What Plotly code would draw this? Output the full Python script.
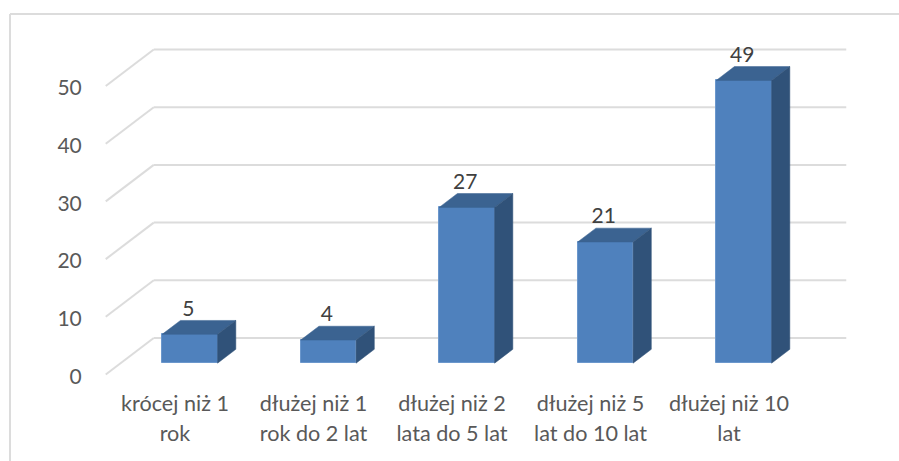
import plotly.graph_objects as go

categories = [["krócej niż 1", "rok"], ["dłużej niż 1", "rok do 2 lat"], ["dłużej niż 2", "lata do 5 lat"],
              ["dłużej niż 5", "lat do 10 lat"], ["dłużej niż 10", "lat"]]
values = [5, 4, 27, 21, 49]
y_ticks = [0, 10, 20, 30, 40, 50]

FONT = "Lato"
FS_CAT = 21.6
FS_NUM = 21
GRID = "#dcdcdc"
FRONT, TOP, SIDE = "#4f81bd", "#3b6391", "#305279"

# oblique projection: full floor depth in axis units
DX, DY = 0.3466, 6.33
BAR_HALF = 0.2
D0, D1 = 0.31, 0.69

W, H = 899, 461
L, R, T, B = 90, 860, 25, 380
xr = [(L - 175) / 138.5, (R - 175) / 138.5]
yr = [(374.5 - B) / 5.77, (374.5 - T) / 5.77]

def proj(x, v, d):
    return x + d * DX, v + d * DY

fig = go.Figure()
xs = list(range(len(values)))

# front faces
fig.add_trace(go.Bar(
    x=[proj(i, 0, D0)[0] for i in xs], y=values, base=D0 * DY, width=2 * BAR_HALF,
    marker=dict(color=FRONT, line=dict(color="#6b97cc", width=1)), hoverinfo="skip", showlegend=False))

# top and side faces
for i, v in zip(xs, values):
    a = proj(i - BAR_HALF, v, D0); b = proj(i + BAR_HALF, v, D0)
    c = proj(i + BAR_HALF, v, D1); d = proj(i - BAR_HALF, v, D1)
    fig.add_trace(go.Scatter(x=[a[0], b[0], c[0], d[0], a[0]], y=[a[1], b[1], c[1], d[1], a[1]],
                             mode="lines", fill="toself", fillcolor=TOP, line=dict(color=TOP, width=0.5),
                             hoverinfo="skip", showlegend=False))
    e = proj(i + BAR_HALF, 0, D0); f = proj(i + BAR_HALF, 0, D1)
    fig.add_trace(go.Scatter(x=[e[0], f[0], c[0], b[0], e[0]], y=[e[1], f[1], c[1], b[1], e[1]],
                             mode="lines", fill="toself", fillcolor=SIDE, line=dict(color=SIDE, width=0.5),
                             hoverinfo="skip", showlegend=False))

# data labels
fig.add_trace(go.Scatter(
    x=[proj(i, 0, D0)[0] - 0.012 for i in xs], y=[v + D1 * DY + 1.75 for v in values],
    mode="text", text=[str(v) for v in values], textposition="middle center",
    textfont=dict(family=FONT, size=FS_NUM, color="#404040"), hoverinfo="skip", showlegend=False))

# gridlines on floor edge and back wall
shapes = []
x_lo, x_hi = -0.5, len(values) - 0.5
for t in y_ticks:
    p0 = proj(x_lo, t, 0); p1 = proj(x_lo, t, 1); p2 = proj(x_hi, t, 1)
    for s, e in ((p0, p1), (p1, p2)):
        shapes.append(dict(type="line", xref="x", yref="y", layer="below",
                           x0=s[0], y0=s[1], x1=e[0], y1=e[1], line=dict(color=GRID, width=2)))

# chart frame, cut off by the page on the right and at the bottom
px = lambda p: (p - L) / (R - L)
py = lambda p: (B - p) / (B - T)
shapes.append(dict(type="line", xref="paper", yref="paper", x0=px(10), x1=px(W + 5), y0=py(14), y1=py(14),
                   line=dict(color=GRID, width=2)))
shapes.append(dict(type="line", xref="paper", yref="paper", x0=px(10), x1=px(10), y0=py(14), y1=py(H + 5),
                   line=dict(color=GRID, width=2)))

ticktext = [f'<span style="font-size:{FS_CAT}px">{a}</span><br><span style="font-size:{FS_CAT}px">{b}</span>'
            for a, b in categories]

fig.update_layout(
    width=W, height=H, autosize=False, paper_bgcolor="white", plot_bgcolor="rgba(0,0,0,0)",
    margin=dict(l=L, r=W - R, t=T, b=H - B, pad=0), shapes=shapes, showlegend=False, bargap=0,
    xaxis=dict(range=xr, tickmode="array", tickvals=xs, ticktext=ticktext, showgrid=False, zeroline=False,
               showline=False, ticks="outside", ticklen=2, tickcolor="rgba(0,0,0,0)",
               tickfont=dict(family=FONT, size=23, color="#595959"), tickangle=0, automargin=False),
    yaxis=dict(range=yr, tickmode="array", tickvals=y_ticks, showgrid=False, zeroline=False, showline=False,
               ticks="outside", ticklen=3, tickcolor="rgba(0,0,0,0)", ticklabelshift=2,
               tickfont=dict(family=FONT, size=FS_NUM, color="#595959"), automargin=False),
)
fig.write_html("out.html", config={"displayModeBar": False},
               post_script="document.body.style.margin='0';document.body.style.overflow='hidden';")
